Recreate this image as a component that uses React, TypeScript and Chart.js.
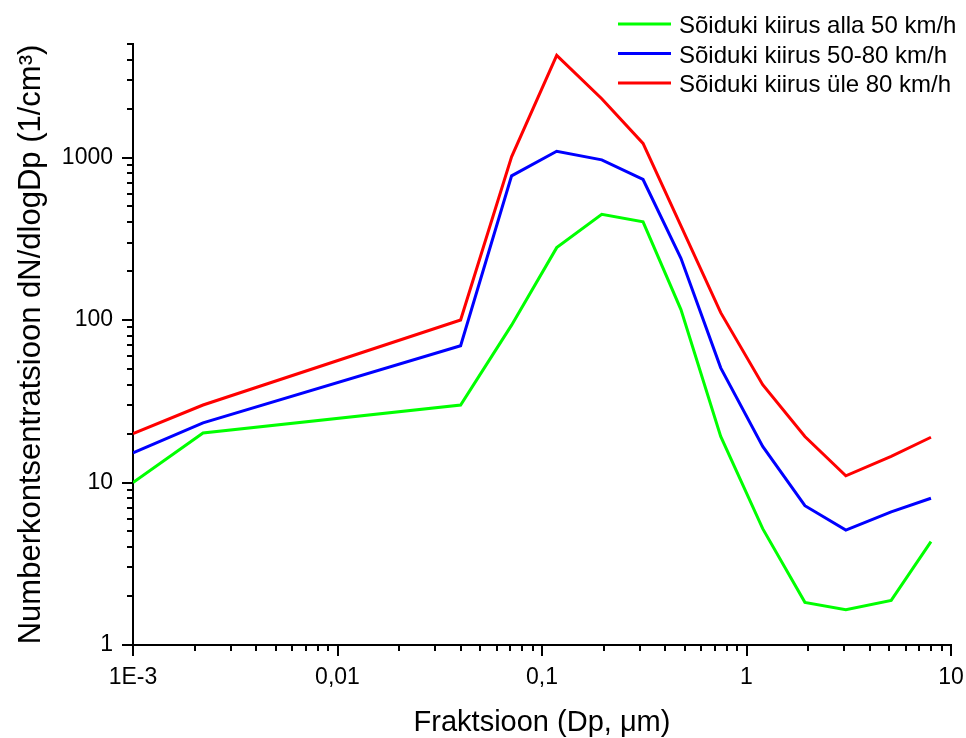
import React, { useEffect, useRef } from "react";
import { Chart, registerables } from "chart.js";

Chart.register(...registerables);

const xValues = [0.001, 0.0022, 0.04, 0.071, 0.118, 0.196, 0.312, 0.478, 0.748, 1.2, 1.93, 3.06, 5.1, 7.98];
const greenValues = [10, 20.2, 30, 93, 279, 448, 402, 116, 19.2, 5.2, 1.83, 1.65, 1.88, 4.33];
const blueValues = [15.2, 23.3, 69.5, 772, 1093, 968, 733, 240, 50.8, 16.7, 7.2, 5.1, 6.6, 8.0];
const redValues = [20, 30, 100, 1010, 4257, 2300, 1222, 380, 111, 40, 19.2, 11.0, 14.5, 19.0];

const seriesLabels = [
  "Sõiduki kiirus alla 50 km/h",
  "Sõiduki kiirus 50-80 km/h",
  "Sõiduki kiirus üle 80 km/h",
];
const seriesColors = ["#00ff00", "#0000ff", "#ff0000"];

const xMajorTicks = [0.001, 0.01, 0.1, 1, 10];
const xTickLabels = ["1E-3", "0,01", "0,1", "1", "10"];
const yMajorTicks = [1, 10, 100, 1000];
const yTickLabels = ["1", "10", "100", "1000"];

const xTitle = "Fraktsioon (Dp, μm)";
const yTitle = "Numberkontsentratsioon dN/dlogDp (1/cm³)";

const FONT = "'Liberation Sans', Arial, Helvetica, sans-serif";

const tickPlugin = {
  id: "logTicks",
  afterDraw(chart: any) {
    const { ctx, chartArea, scales } = chart;
    const xs = scales.x;
    const ys = scales.y;
    ctx.save();
    ctx.strokeStyle = "#000";
    ctx.lineWidth = 2;
    const drawX = (v: number, len: number) => {
      const px = Math.round(xs.getPixelForValue(v));
      ctx.beginPath();
      ctx.moveTo(px, chartArea.bottom);
      ctx.lineTo(px, chartArea.bottom + len);
      ctx.stroke();
    };
    const drawY = (v: number, len: number) => {
      const py = Math.round(ys.getPixelForValue(v));
      ctx.beginPath();
      ctx.moveTo(chartArea.left, py);
      ctx.lineTo(chartArea.left - len, py);
      ctx.stroke();
    };
    xMajorTicks.forEach((m) => {
      drawX(m, 11);
      for (let k = 2; k <= 9; k++) {
        const v = k * m;
        if (v <= xs.max * 1.0001) drawX(v, 6);
      }
    });
    yMajorTicks.forEach((m) => {
      drawY(m, 11);
      for (let k = 2; k <= 9; k++) {
        const v = k * m;
        if (v <= ys.max * 1.0001) drawY(v, 6);
      }
    });
    ctx.restore();
  },
};

const legendPlugin = {
  id: "customLegend",
  afterDraw(chart: any) {
    const { ctx } = chart;
    ctx.save();
    ctx.font = `24px ${FONT}`;
    ctx.textAlign = "left";
    ctx.textBaseline = "alphabetic";
    chart.data.datasets.forEach((ds: any, i: number) => {
      const y = 24 + i * 29.5;
      ctx.strokeStyle = ds.borderColor;
      ctx.lineWidth = 3;
      ctx.beginPath();
      ctx.moveTo(618, y);
      ctx.lineTo(671, y);
      ctx.stroke();
      ctx.fillStyle = "#000";
      ctx.fillText(ds.label, 679, y + 9);
    });
    ctx.restore();
  },
};

export default function App() {
  const ref = useRef<HTMLCanvasElement>(null);

  useEffect(() => {
    if (!ref.current) return;
    const mk = (vals: number[]) => xValues.map((x, i) => ({ x, y: vals[i] }));
    const allValues = [greenValues, blueValues, redValues];
    const chart = new Chart(ref.current, {
      type: "line",
      data: {
        datasets: allValues.map((vals, i) => ({
          label: seriesLabels[i],
          data: mk(vals),
          borderColor: seriesColors[i],
          backgroundColor: seriesColors[i],
          borderWidth: 3,
          pointRadius: 0,
          tension: 0,
          fill: false,
          order: 3 - i,
        })),
      },
      options: {
        animation: false,
        responsive: false,
        devicePixelRatio: 1,
        layout: { padding: { top: 44, right: 15, left: 0, bottom: 0 } },
        plugins: {
          legend: { display: false },
          tooltip: { enabled: false },
        },
        scales: {
          x: {
            type: "logarithmic",
            position: "bottom",
            min: 0.001,
            max: 10,
            afterBuildTicks: (s: any) => {
              s.ticks = xMajorTicks.map((v) => ({ value: v, major: true }));
            },
            afterFit: (s: any) => {
              s.height = 93;
              s.paddingLeft = 0;
              s.paddingRight = 0;
            },
            ticks: {
              autoSkip: false,
              maxRotation: 0,
              minRotation: 0,
              padding: 19,
              color: "#000",
              font: { family: FONT, size: 23 },
              callback: (v: any) => {
                const i = xMajorTicks.findIndex((m) => Math.abs(m - Number(v)) < m * 1e-6);
                return i >= 0 ? xTickLabels[i] : "";
              },
            },
            grid: { display: false, drawTicks: false },
            border: { display: true, color: "#000", width: 2 },
            title: {
              display: true,
              text: xTitle,
              color: "#000",
              font: { family: FONT, size: 29, lineHeight: 1 },
              padding: { top: 0, bottom: 1 },
            },
          },
          y: {
            type: "logarithmic",
            position: "left",
            min: 1,
            max: 5000,
            afterBuildTicks: (s: any) => {
              s.ticks = yMajorTicks.map((v) => ({ value: v, major: true }));
            },
            afterFit: (s: any) => {
              s.width = 133;
              s.paddingTop = 0;
              s.paddingBottom = 0;
            },
            ticks: {
              autoSkip: false,
              padding: 20,
              color: "#000",
              font: { family: FONT, size: 23 },
              callback: (v: any) => {
                const i = yMajorTicks.findIndex((m) => Math.abs(m - Number(v)) < m * 1e-6);
                return i >= 0 ? yTickLabels[i] : "";
              },
            },
            grid: { display: false, drawTicks: false },
            border: { display: true, color: "#000", width: 2 },
            title: {
              display: true,
              text: yTitle,
              color: "#000",
              font: { family: FONT, size: 31, lineHeight: 1 },
              padding: { top: 16, bottom: 0 },
            },
          },
        },
      },
      plugins: [tickPlugin, legendPlugin],
    } as any);
    return () => chart.destroy();
  }, []);

  return (
    <div style={{ position: "absolute", left: 0, top: 0, width: 966, height: 738, background: "#fff" }}>
      <canvas ref={ref} width={966} height={738} style={{ display: "block", width: 966, height: 738 }} />
    </div>
  );
}
